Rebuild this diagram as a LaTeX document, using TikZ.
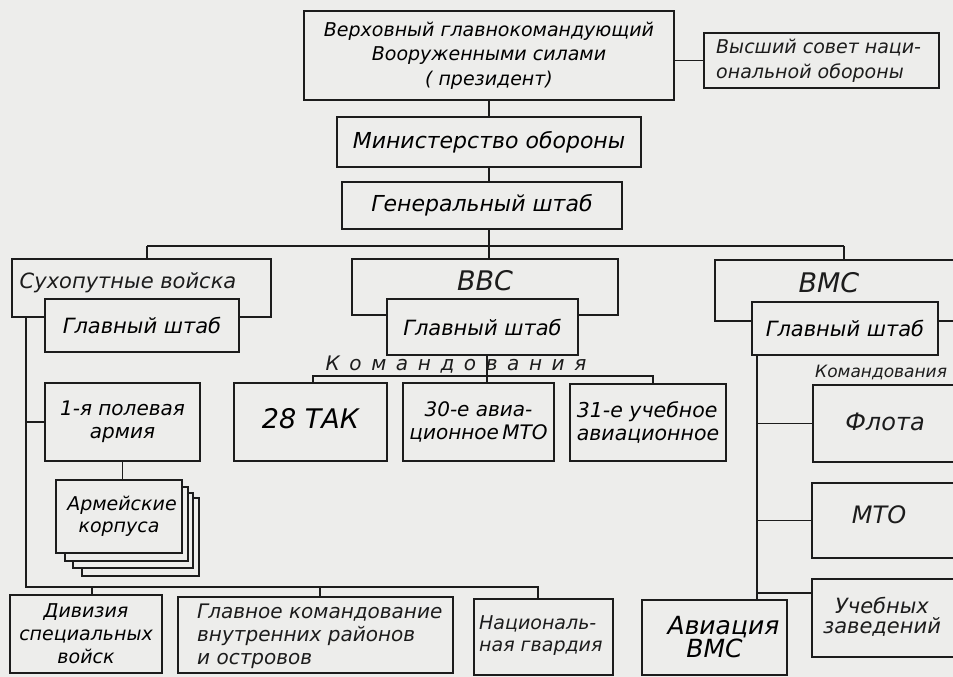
\documentclass[tikz,border=0pt]{standalone}
\usepackage{fontspec}
\setmainfont{DejaVu Sans}
\definecolor{paper}{RGB}{237,237,235}
\definecolor{ink}{RGB}{28,28,28}
\newcommand\fs[2]{\fontsize{#1}{#2}\selectfont}
% #1 options, #2 name, #3 x1, #4 y1, #5 x2, #6 y2, #7 text
\newcommand\Bx[7][]{\node[bx,minimum width={(#5-#3)*1pt},minimum height={(#6-#4)*1pt},#1] (#2) at ({(#3+#5)/2},{(#4+#6)/2}) {#7};}
\begin{document}
\begin{tikzpicture}[x=1pt,y=-1pt,
  bx/.style={draw=ink,line width=1.8pt,fill=paper,inner sep=0pt,outer sep=0pt,align=center,font=\itshape\fs{20}{24}},
  lbl/.style={inner sep=0pt,text=ink,font=\itshape\fs{20}{24},align=center},
  ln/.style={draw=ink,line width=1.8pt},
  thin/.style={line width=1.4pt}]
\useasboundingbox (0,0) rectangle (953,677);
\fill[paper] (0,0) rectangle (953,677);
\clip (0,0) rectangle (953,677);
% top levels
\Bx[font=\itshape\fs{19}{24.5}]{vg}{304}{11}{674}{100}{Верховный главнокомандующий\\Вооруженными силами\\( президент)}
\Bx{vs}{704}{33}{939}{88}{}
\node[lbl,anchor=west,align=left,font=\itshape\fs{19}{25}] (vsT) at (716,61) {Высший совет наци-\\ональной обороны};
\Bx[font=\itshape\fs{22}{24}]{mo}{337}{117}{641}{167}{Министерство обороны}
\Bx[font=\itshape\fs{22}{24}]{gs}{342}{182}{622}{229}{Генеральный штаб}
% services
\Bx{sv}{12}{259}{271}{317}{}
\node[lbl,font=\itshape\fs{21}{24}] (svT) at (128,283) {Сухопутные войска};
\Bx[font=\itshape\fs{21}{24}]{svgs}{45}{299}{239}{352}{Главный штаб}
\Bx{vvs}{352}{259}{618}{315}{}
\node[lbl,font=\itshape\fs{27}{28}] (vvsT) at (485,281) {ВВС};
\Bx[font=\itshape\fs{21}{24}]{vvsgs}{387}{299}{578}{355}{Главный штаб}
\Bx{vm}{715}{260}{990}{321}{}
\node[lbl,font=\itshape\fs{27}{28}] (vmT) at (829,283) {ВМС};
\Bx[font=\itshape\fs{21}{24}]{vmgs}{752}{302}{938}{355}{Главный штаб}
% VVS commands
\node[lbl,font=\itshape\fs{20}{24}\addfontfeature{LetterSpace=48}] (kvT) at (456,365) {Командования};
\Bx[font=\itshape\fs{27}{28}]{tak}{234}{383}{387}{461}{\raisebox{7pt}{28 ТАК}}
\Bx[font=\itshape\fs{20}{23}]{a30}{403}{383}{554}{461}{30-е авиа-\\ционное\,МТО}
\Bx[align=left,font=\itshape\fs{20.5}{23}]{a31}{570}{384}{726}{461}{31-е учебное\\авиационное}
% ground forces
\Bx[font=\itshape\fs{20}{23}]{arm1}{45}{383}{200}{461}{1-я полевая\\армия}
\Bx[thin]{c4}{82}{498}{199}{576}{}
\Bx[thin]{c3}{73}{493}{193}{568}{}
\Bx[thin]{c2}{65}{487}{188}{561}{}
\Bx[font=\itshape\fs{19}{22}]{corps}{56}{480}{182}{553}{\hspace*{6pt}Армейские\\корпуса}
\Bx[font=\itshape\fs{19}{23}]{div}{10}{595}{162}{673}{Дивизия\\специальных\\войск}
\Bx{glav}{178}{597}{453}{673}{}
\node[lbl,anchor=west,align=left,font=\itshape\fs{20}{23}] (glavT) at (197,636) {Главное командование\\внутренних районов\\и островов};
\Bx{nat}{474}{599}{613}{675}{}
\node[lbl,anchor=west,align=left,font=\itshape\fs{19}{22}] (natT) at (479,636) {Националь-\\ная гвардия};
\Bx[font=\itshape\fs{25}{23}]{avia}{642}{600}{787}{675}{\hspace*{18pt}Авиация\\ВМС}
% navy commands
\node[lbl,anchor=west,font=\itshape\fs{17}{24}] (kmT) at (815,372) {Командования};
\Bx{flota}{813}{385}{990}{462}{}
\node[lbl,font=\itshape\fs{24}{24}] (flotaT) at (885,422) {Флота};
\Bx{mto}{812}{483}{990}{558}{}
\node[lbl,font=\itshape\fs{24}{24}] (mtoT) at (879,515) {МТО};
\Bx{ucheb}{812}{579}{990}{657}{}
\node[lbl,font=\itshape\fs{21}{20}] (uchebT) at (882,617) {Учебных\\заведений};
% connectors: top
\coordinate (bL) at (147,246);
\coordinate (bM) at (489,246);
\coordinate (bR) at (844,246);
\draw[ln] (vg.east |- vs.west) -- (vs.west);
\draw[ln] (vg.south) -- (vg.south |- mo.north);
\draw[ln] (vg.south |- mo.south) -- (vg.south |- gs.north);
\draw[ln] (bM |- gs.south) -- (bM);
\draw[ln] (bL) -- (bR);
\draw[ln] (bL) -- (bL |- sv.north);
\draw[ln] (bM) -- (bM |- vvs.north);
\draw[ln] (bR) -- (bR |- vm.north);
% ground forces connectors
\coordinate (sL) at (26,587);
\coordinate (sD) at (92,587);
\coordinate (sG) at (320,587);
\coordinate (sR) at (538,587);
\draw[ln] (sL |- sv.south) -- (sL) -- (sR) -- (sR |- nat.north);
\draw[ln] (sL |- arm1.west) -- (arm1.west);
\draw[ln] (arm1.south) -- (arm1.south |- corps.north);
\draw[ln] (sD) -- (sD |- div.north);
\draw[ln] (sG) -- (sG |- glav.north);
% VVS connectors
\coordinate (kL) at (313,376);
\coordinate (kM) at (487,376);
\coordinate (kR) at (653,376);
\draw[ln] (kM |- vvsgs.south) -- (kM |- a30.north);
\draw[ln] (kL |- tak.north) -- (kL) -- (kR) -- (kR |- a31.north);
% VMS connectors
\coordinate (mV) at (757,355);
\coordinate (mU) at (757,593);
\draw[ln] (mV |- vmgs.south) -- (mV |- avia.north);
\draw[ln] (mV |- flota.west) -- (flota.west);
\draw[ln] (mV |- mto.west) -- (mto.west);
\draw[ln] (mU) -- (mU -| ucheb.west);
\end{tikzpicture}
\end{document}
